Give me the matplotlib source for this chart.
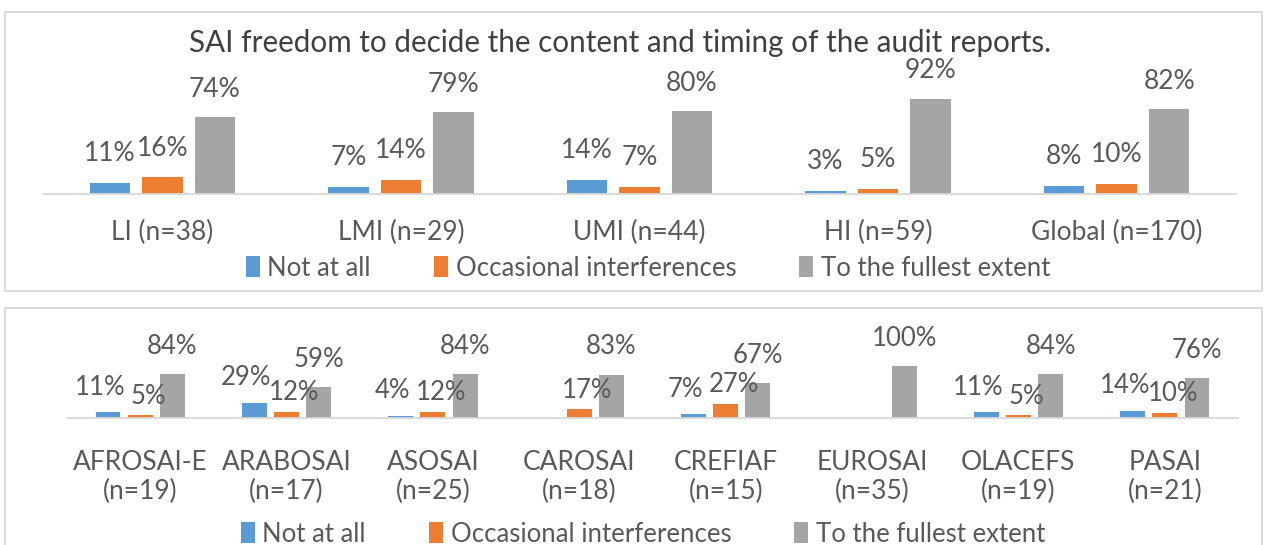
import matplotlib.pyplot as plt
import numpy as np
from matplotlib.patches import Rectangle, Patch

W, H = 1264, 545

title = "SAI freedom to decide the content and timing of the audit reports."
series = ["Not at all", "Occasional interferences", "To the fullest extent"]
colors = ["#5B9BD5", "#ED7D31", "#A5A5A5"]

income_groups = ["LI (n=38)", "LMI (n=29)", "UMI (n=44)", "HI (n=59)", "Global (n=170)"]
income_not = [11, 7, 14, 3, 8]
income_occ = [16, 14, 7, 5, 10]
income_full = [74, 79, 80, 92, 82]

regions = ["AFROSAI-E\n(n=19)", "ARABOSAI\n(n=17)", "ASOSAI\n(n=25)", "CAROSAI\n(n=18)",
           "CREFIAF\n(n=15)", "EUROSAI\n(n=35)", "OLACEFS\n(n=19)", "PASAI\n(n=21)"]
region_not = [11, 29, 4, np.nan, 7, np.nan, 11, 14]
region_occ = [5, 12, 12, 17, 27, np.nan, 5, 10]
region_full = [84, 59, 84, 83, 67, 100, 84, 76]

plt.rcParams['font.family'] = ['Lato', 'DejaVu Sans']
TXT = "#595959"
GRID = "#D9D9D9"

fig = plt.figure(figsize=(W / 100, H / 100), dpi=100)


def box(x0, y0, x1, y1):
    # rectangle in pixel coords (top-left origin)
    return [x0 / W, 1 - y1 / H, (x1 - x0) / W, (y1 - y0) / H]


# panel frames
for (x0, y0, x1, y1) in [(5, 12, 1262, 291), (5, 308, 1262, 560)]:
    fig.patches.append(Rectangle((x0 / W, 1 - y1 / H), (x1 - x0) / W, (y1 - y0) / H,
                                 transform=fig.transFigure, fill=False,
                                 edgecolor=GRID, linewidth=1.3))


def panel(rect, cats, vals, offs, nudges, pad, fs, lfs):
    ax = fig.add_axes(rect)
    x = np.arange(len(cats))
    for i, (v, c) in enumerate(zip(vals, colors)):
        v = np.array(v, dtype=float)
        xs = x + (i - 1) * 0.22
        ax.bar(xs, np.nan_to_num(v), width=0.17, color=c)
        for xi, vi in zip(xs, v):
            if np.isnan(vi):
                continue
            ax.annotate(f"{vi:.0f}%", (xi, vi), xytext=(nudges[i], offs[i]),
                        textcoords="offset pixels", ha="center", va="center",
                        fontsize=lfs, color=TXT, annotation_clip=False)
    ax.set_xlim(-0.5, len(cats) - 0.5)
    ax.set_ylim(0, 100)
    for s in ["top", "left", "right"]:
        ax.spines[s].set_visible(False)
    ax.spines["bottom"].set_color(GRID)
    ax.spines["bottom"].set_linewidth(1.3)
    ax.set_yticks([])
    ax.set_xticks(x)
    ax.set_xticklabels(cats, fontsize=fs, color=TXT, linespacing=1.2)
    ax.tick_params(axis="x", length=0, pad=pad)
    ax.patch.set_alpha(0)
    return ax


# top panel: baseline y=194, ~1.035 px per %
ax1 = panel(box(43, 194 - 103.5, 1236, 194), income_groups,
            [income_not, income_occ, income_full],
            [29, 29, 28], [0, 0, 0], 18.5, 19, 19)
fig.text(620 / W, 1 - 43 / H, title, ha="center", va="center", fontsize=21.3, color="#404040")

# bottom panel: baseline y=418, ~0.52 px per %
ax2 = panel(box(67, 418 - 52, 1238, 418), regions,
            [region_not, region_occ, region_full],
            [25, 19, 28], [-8, 8, 0], 23, 19, 18.5)

handles = [Patch(facecolor=c, edgecolor="none") for c in colors]
for yc, xc in [(268, 648), (534, 643)]:
    fig.legend(handles, series, loc="center", bbox_to_anchor=(xc / W, 1 - yc / H),
               ncol=3, frameon=False, fontsize=18.5, labelcolor=TXT,
               handlelength=0.55, handleheight=0.85, handletextpad=0.3,
               columnspacing=2.45, borderpad=0, borderaxespad=0)

fig.savefig("out.png", dpi=100)
